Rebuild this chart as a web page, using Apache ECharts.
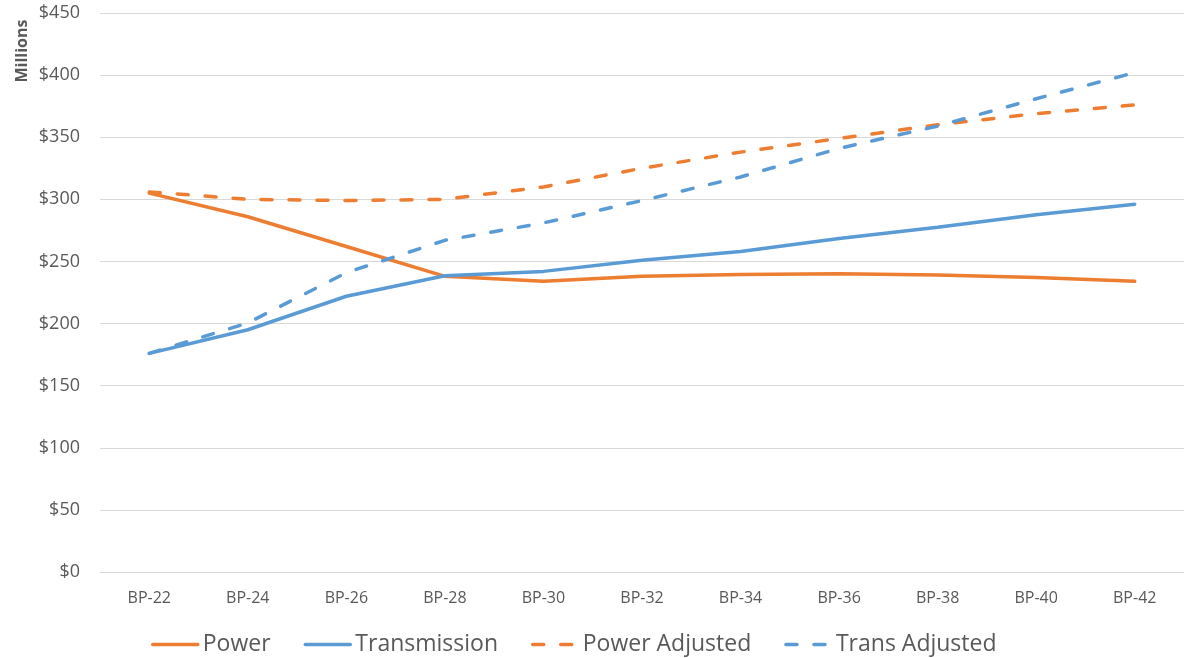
<!DOCTYPE html>
<html>
<head>
<meta charset="utf-8">
<script src="https://cdn.jsdelivr.net/npm/echarts@6/dist/echarts.min.js"></script>
<style>
  html, body { margin: 0; padding: 0; background: #fff; }
  #chart { width: 1184px; height: 658px; }
</style>
</head>
<body>
<div id="chart"></div>
<script>
// categories on the x axis
const categories = ['BP-22', 'BP-24', 'BP-26', 'BP-28', 'BP-30', 'BP-32', 'BP-34', 'BP-36', 'BP-38', 'BP-40', 'BP-42'];

// series values, $ millions
const power = [305, 286, 262, 238, 234, 238, 239.5, 240, 239, 237, 234];
const transmission = [176, 195, 222, 238.5, 242, 251, 258, 268.5, 277.5, 287.5, 296];
const powerAdjusted = [306, 300, 299, 300, 310, 325, 338, 349, 360, 369, 376];
const transAdjusted = [176, 200.5, 241, 267, 281, 299, 318, 341, 359, 381, 402];

const ORANGE = '#ED7D31';
const BLUE = '#5B9BD5';
const TEXT = '#595959';
const FONT = 'Open Sans';

const chart = echarts.init(document.getElementById('chart'));

// helper for one line series
const makeLine = (name, data, color, dashed) => ({
  name: name,
  type: 'line',
  data: data,
  symbol: 'none',
  smooth: false,
  lineStyle: {
    color: color,
    width: 3.5,
    type: dashed ? [11, 17] : 'solid',
    cap: 'round',
  },
  itemStyle: { color: color },
});

chart.setOption({
  backgroundColor: '#fff',
  animation: false,
  textStyle: { fontFamily: FONT },
  grid: { left: 100, right: -10, top: 13, bottom: 86 },
  legend: {
    left: 146,
    top: 628,
    itemWidth: 45,
    itemHeight: 14,
    itemGap: 33,
    itemStyle: { opacity: 0 },
    lineStyle: { width: 3.5 },
    textStyle: { color: TEXT, fontSize: 23, fontFamily: FONT },
    data: ['Power', 'Transmission', 'Power Adjusted', 'Trans Adjusted'],
  },
  xAxis: {
    type: 'category',
    data: categories,
    boundaryGap: true,
    axisLine: { lineStyle: { color: '#D9D9D9', width: 1 } },
    axisTick: { show: false },
    axisLabel: { color: TEXT, fontSize: 16, margin: 18, fontFamily: FONT },
  },
  yAxis: {
    type: 'value',
    min: 0,
    max: 450,
    interval: 50,
    axisLine: { show: false },
    axisTick: { show: false },
    axisLabel: {
      color: TEXT,
      fontSize: 18,
      margin: 20,
      fontFamily: FONT,
      formatter: (v) => '$' + v,
    },
    splitLine: { lineStyle: { color: '#D9D9D9', width: 1 } },
  },
  graphic: [
    {
      type: 'text',
      x: 22,
      y: 51,
      rotation: Math.PI / 2,
      style: {
        text: 'Millions',
        font: 'bold 16px "Open Sans"',
        fill: TEXT,
        textAlign: 'center',
        textVerticalAlign: 'middle',
      },
    },
  ],
  series: [
    makeLine('Power', power, ORANGE, false),
    makeLine('Transmission', transmission, BLUE, false),
    makeLine('Power Adjusted', powerAdjusted, ORANGE, true),
    makeLine('Trans Adjusted', transAdjusted, BLUE, true),
  ],
});
</script>
</body>
</html>
